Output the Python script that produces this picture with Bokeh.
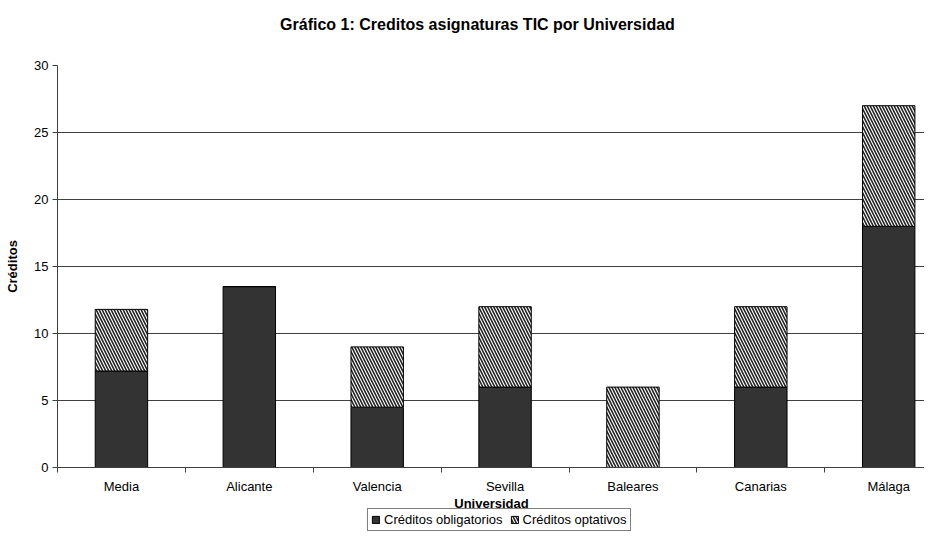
from bokeh.plotting import figure
from bokeh.layouts import column
from bokeh.models import Range1d, FixedTicker, Legend, LegendItem, Label
from bokeh.embed import file_html
from bokeh.resources import INLINE

universidades = ["Media", "Alicante", "Valencia", "Sevilla", "Baleares", "Canarias", "Málaga"]
obligatorios = [7.2, 13.5, 4.5, 6.0, 0.0, 6.0, 18.0]
optativos = [4.6, 0.0, 4.5, 6.0, 6.0, 6.0, 9.0]
y_ticks = [0, 5, 10, 15, 20, 25, 30]
serie_labels = ["Créditos obligatorios", "Créditos optativos"]
titulo = "Gráfico 1: Creditos asignaturas TIC por Universidad"
eje_x = "Universidad"
eje_y = "Créditos"

FONT = "Liberation Sans"
DARK = "#333333"
AXIS = "#404040"

centers = [i + 0.5 for i in range(len(universidades))]
tops = [a + b for a, b in zip(obligatorios, optativos)]


def bare(fig):
    fig.outline_line_color = None
    fig.xgrid.visible = False
    fig.ygrid.visible = False


# ---- title strip ----
tf = figure(width=924, height=38, output_backend="svg", toolbar_location=None,
            x_range=Range1d(57, 924), y_range=Range1d(38, 0),
            x_axis_location=None, y_axis_location=None,
            min_border_left=0, min_border_right=0, min_border_top=0, min_border_bottom=0)
bare(tf)
tf.add_layout(Label(x=477, y=24, text=titulo, text_align="center", text_baseline="middle",
                    text_font=FONT, text_font_size="16px", text_font_style="bold",
                    text_color="black"))

# ---- main chart ----
p = figure(width=924, height=458, output_backend="svg", toolbar_location=None,
           x_range=Range1d(0, 6.78), y_range=Range1d(0, 30),
           min_border_left=57, min_border_right=0, min_border_top=27, min_border_bottom=28)
p.outline_line_color = None
p.background_fill_color = "white"

bar_style = dict(width=0.41, line_color="black", line_width=1)
hatch_style = dict(fill_color="white", hatch_pattern="\\", hatch_color="#222222",
                   hatch_scale=6, hatch_weight=1.6)

r1 = p.vbar(x=centers, top=obligatorios, bottom=0, fill_color=DARK, **bar_style)
r2 = p.vbar(x=centers, top=tops, bottom=obligatorios, **hatch_style, **bar_style)

xa = p.xaxis[0]
xa.ticker = FixedTicker(ticks=centers, minor_ticks=list(range(0, 8)))
xa.major_label_overrides = {c: n for c, n in zip(centers, universidades)}
xa.major_tick_line_color = None
xa.minor_tick_in = 0
xa.minor_tick_out = 5
xa.minor_tick_line_color = AXIS
xa.axis_line_color = AXIS
xa.major_label_text_font = FONT
xa.major_label_text_font_size = "13px"
xa.major_label_text_color = "black"
xa.major_label_standoff = 5

ya = p.yaxis[0]
ya.ticker = FixedTicker(ticks=y_ticks)
ya.minor_tick_line_color = None
ya.major_tick_in = 0
ya.major_tick_out = 5
ya.major_tick_line_color = AXIS
ya.axis_line_color = AXIS
ya.major_label_text_font = FONT
ya.major_label_text_font_size = "13px"
ya.major_label_text_color = "black"
ya.major_label_standoff = 4
ya.axis_label = eje_y
ya.axis_label_text_font = FONT
ya.axis_label_text_font_size = "13px"
ya.axis_label_text_font_style = "bold"
ya.axis_label_text_color = "black"
ya.axis_label_standoff = 11

p.xgrid.grid_line_color = None
p.ygrid.ticker = FixedTicker(ticks=y_ticks)
p.ygrid.grid_line_color = AXIS
p.ygrid.grid_line_width = 1

# ---- x-axis title + legend strip ----
lf = figure(width=924, height=35, output_backend="svg", toolbar_location=None,
            x_range=Range1d(57, 924), y_range=Range1d(35, 0),
            x_axis_location=None, y_axis_location=None,
            min_border_left=0, min_border_right=0, min_border_top=0, min_border_bottom=0)
bare(lf)
lf.add_layout(Label(x=491, y=7, text=eje_x, text_align="center", text_baseline="middle",
                    text_font=FONT, text_font_size="13px", text_font_style="bold",
                    text_color="black"))
# proxies kept outside the visible range: they only lend their style to the legend
l1 = lf.vbar(x=[2000], top=[1], width=1, fill_color=DARK, line_color="black")
l2 = lf.vbar(x=[2000], top=[1], width=1, line_color="black", **hatch_style)

legend = Legend(items=[LegendItem(label=serie_labels[0], renderers=[l1]),
                       LegendItem(label=serie_labels[1], renderers=[l2])],
                orientation="horizontal", location=(310, 0),
                label_text_font=FONT, label_text_font_size="13px", label_text_color="black",
                glyph_width=9, glyph_height=9, label_standoff=4, spacing=7,
                padding=3, margin=0, label_height=13,
                border_line_color="black", border_line_width=1,
                background_fill_color="white")
lf.add_layout(legend, "center")

layout = column(tf, p, lf, spacing=0)
open("out.html", "w").write(file_html(layout, INLINE))
